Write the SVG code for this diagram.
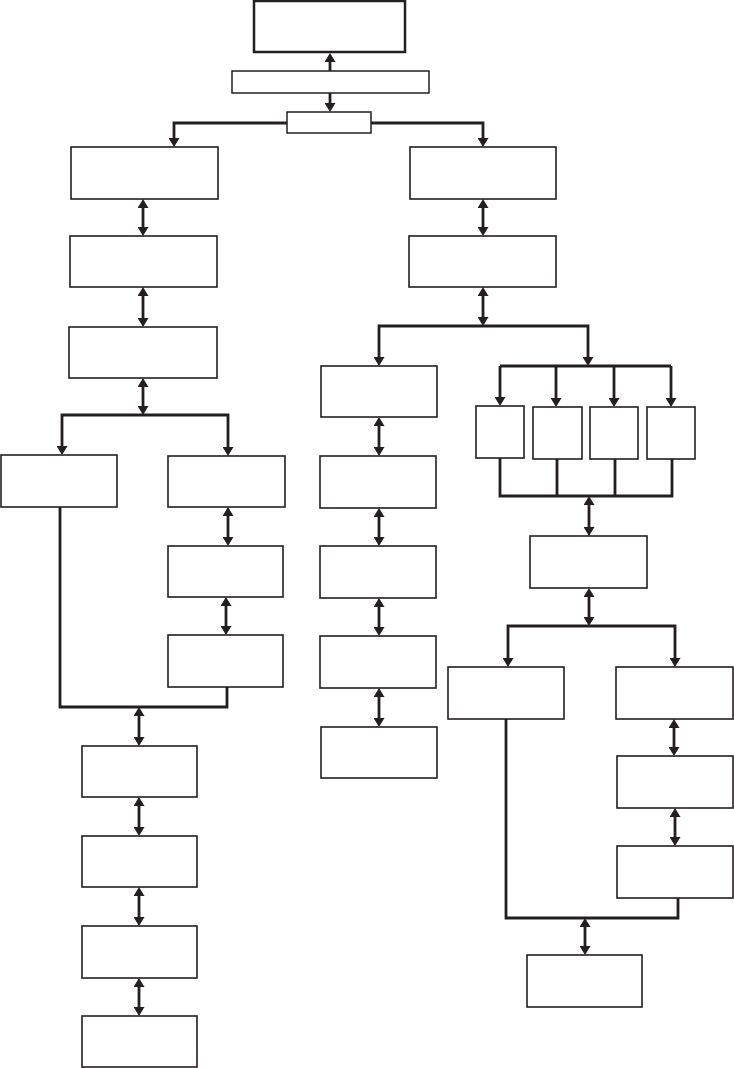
<svg xmlns="http://www.w3.org/2000/svg" width="734" height="1068" viewBox="0 0 734 1068">
<style>
.n rect{fill:#fff;stroke:#231f20;stroke-width:1.6}
.c path,.c line{fill:none;stroke:#231f20;stroke-width:2.8}
.a{marker-end:url(#ah)}
.d{marker-start:url(#ah);marker-end:url(#ah)}
</style>
<defs>
<marker id="ah" viewBox="0 0 9 11" refX="5" refY="5.5" markerWidth="9" markerHeight="11" markerUnits="userSpaceOnUse" orient="auto-start-reverse">
<path d="M0,0 L9,5.5 L0,11 z" fill="#231f20"/>
</marker>
</defs>
<rect width="734" height="1068" fill="#fff"/>
<g id="connectors" class="c">
<line class="a" x1="330" y1="71" x2="330" y2="57"/>
<line class="a" x1="330" y1="93" x2="330" y2="108"/>
<path class="d" d="M174,143 V123 H483 V143"/>
<line class="d" x1="143" y1="203" x2="143" y2="232"/>
<line class="d" x1="143" y1="291" x2="143" y2="323"/>
<line class="d" x1="143" y1="382" x2="143" y2="411"/>
<path class="d" d="M62,451 V415 H228 V452"/>
<line class="d" x1="228" y1="511" x2="228" y2="542"/>
<line class="d" x1="226" y1="601" x2="226" y2="631"/>
<path d="M60,507 V707 H227 V687"/>
<line class="d" x1="139" y1="711" x2="139" y2="742"/>
<line class="d" x1="139" y1="801" x2="139" y2="832"/>
<line class="d" x1="139" y1="891" x2="139" y2="922"/>
<line class="d" x1="139" y1="982" x2="139" y2="1012"/>
<line class="d" x1="483" y1="203" x2="483" y2="232"/>
<line class="d" x1="483" y1="291" x2="483" y2="322"/>
<path class="d" d="M379,362 V326 H588 V362"/>
<path d="M500,366 H671"/>
<line class="a" x1="500" y1="366" x2="500" y2="402"/>
<line class="a" x1="556" y1="366" x2="556" y2="403"/>
<line class="a" x1="614" y1="366" x2="614" y2="403"/>
<line class="a" x1="671" y1="366" x2="671" y2="403"/>
<line class="d" x1="379" y1="421" x2="379" y2="452"/>
<line class="d" x1="379" y1="512" x2="379" y2="542"/>
<line class="d" x1="379" y1="602" x2="379" y2="632"/>
<line class="d" x1="379" y1="692" x2="379" y2="723"/>
<path d="M500,458 V496 H672 V459 M557,459 V496 M615,459 V496"/>
<line class="d" x1="589" y1="500" x2="589" y2="532"/>
<line class="d" x1="589" y1="592" x2="589" y2="622"/>
<path class="d" d="M508,663 V626 H675 V663"/>
<line class="d" x1="674" y1="723" x2="674" y2="752"/>
<line class="d" x1="675" y1="812" x2="675" y2="842"/>
<path d="M506,719 V918 H678 V898"/>
<line class="d" x1="585" y1="922" x2="585" y2="951"/>
</g>
<g class="n">
<g id="top"><rect x="254" y="1" width="151" height="51" style="stroke-width:2.5"/></g>
<g id="bar"><rect x="232" y="71" width="197" height="22" style="stroke-width:1.5"/></g>
<g id="hub"><rect x="287" y="112" width="84" height="21" style="stroke-width:1.5"/></g>
<g id="b1"><rect x="71" y="147" width="147" height="52"/></g>
<g id="b2"><rect x="70" y="236" width="147" height="51"/></g>
<g id="b3"><rect x="69" y="327" width="148" height="51"/></g>
<g id="l1"><rect x="1" y="455" width="116" height="52"/></g>
<g id="r1"><rect x="168" y="456" width="117" height="51"/></g>
<g id="r2"><rect x="168" y="546" width="115" height="51"/></g>
<g id="r3"><rect x="168" y="635" width="115" height="52"/></g>
<g id="c1"><rect x="82" y="746" width="115" height="51"/></g>
<g id="c2"><rect x="82" y="836" width="115" height="51"/></g>
<g id="c3"><rect x="82" y="926" width="115" height="52"/></g>
<g id="c4"><rect x="82" y="1016" width="115" height="51"/></g>
<g id="rb1"><rect x="410" y="147" width="146" height="52"/></g>
<g id="rb2"><rect x="409" y="236" width="147" height="51"/></g>
<g id="m1"><rect x="321" y="366" width="116" height="51"/></g>
<g id="m2"><rect x="320" y="456" width="116" height="52"/></g>
<g id="m3"><rect x="320" y="546" width="116" height="52"/></g>
<g id="m4"><rect x="320" y="636" width="116" height="52"/></g>
<g id="m5"><rect x="321" y="727" width="116" height="51"/></g>
<g id="s1"><rect x="476" y="406" width="48" height="52"/></g>
<g id="s2"><rect x="533" y="407" width="49" height="52"/></g>
<g id="s3"><rect x="590" y="407" width="48" height="52"/></g>
<g id="s4"><rect x="647" y="407" width="48" height="52"/></g>
<g id="n1"><rect x="530" y="536" width="117" height="52"/></g>
<g id="nl"><rect x="448" y="667" width="116" height="52"/></g>
<g id="nr1"><rect x="616" y="667" width="117" height="52"/></g>
<g id="nr2"><rect x="617" y="756" width="116" height="52"/></g>
<g id="nr3"><rect x="617" y="846" width="116" height="52"/></g>
<g id="f"><rect x="527" y="955" width="115" height="52"/></g>
</g>
</svg>
